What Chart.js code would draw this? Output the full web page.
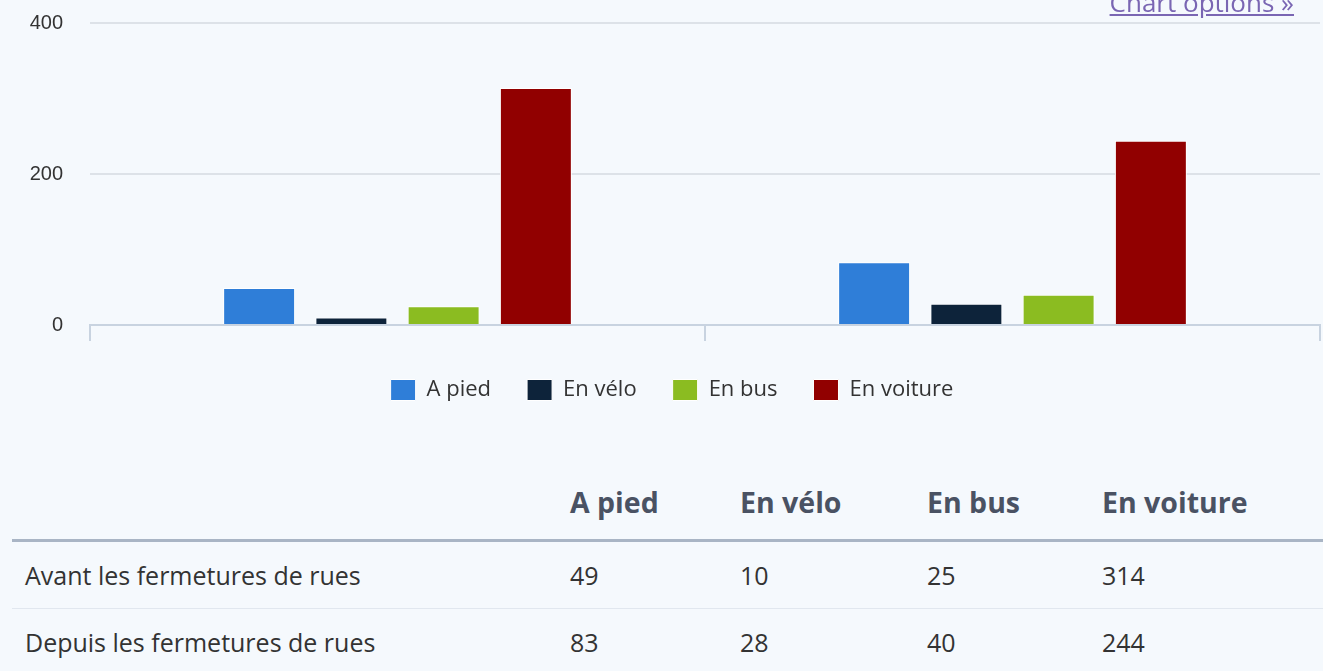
<!DOCTYPE html>
<html>
<head>
<meta charset="utf-8">
<script src="https://cdn.jsdelivr.net/npm/chart.js@4.4.0/dist/chart.umd.min.js"></script>
<style>
  html, body { margin: 0; padding: 0; background: #f5f9fd; overflow: hidden; }
  body { width: 1323px; height: 671px; position: relative; font-family: "Open Sans", sans-serif; }
  #wrap { position: absolute; left: 0; top: 0; width: 1323px; height: 409px; }
  #opts { position: absolute; top: -11px; right: 29px; font-size: 26px; line-height: 1; color: #7a66b3; text-decoration: underline; }
  table { position: absolute; left: 12px; top: 462px; width: 1311px; border-collapse: collapse; table-layout: fixed; color: #333; }
  th { font-size: 28.5px; font-weight: 700; color: #4a5263; text-align: left; height: 74px; padding: 3px 0 0 13px; border-bottom: 3px solid #a9b5c5; }
  td { font-size: 25px; text-align: left; height: 66px; padding: 0 0 0 13px; }
  tr.r1 td { border-bottom: 1px solid #e1e7ef; }
</style>
</head>
<body>
<div id="wrap"><canvas id="chart"></canvas></div>
<a id="opts" href="#">Chart options »</a>
<table>
  <colgroup><col style="width:545px"><col style="width:170px"><col style="width:187px"><col style="width:175px"><col></colgroup>
  <thead><tr id="head"><th></th></tr></thead>
  <tbody id="body"></tbody>
</table>
<script>
const categories = ['Avant les fermetures de rues', 'Depuis les fermetures de rues'];
const seriesNames = ['A pied', 'En vélo', 'En bus', 'En voiture'];
const aPied = [49, 83];
const enVelo = [10, 28];
const enBus = [25, 40];
const enVoiture = [314, 244];
const colors = ['#2f7ed8', '#0d233a', '#8bbc21', '#910000'];
const yTicks = [0, 200, 400];

const values = [aPied, enVelo, enBus, enVoiture];

// table under the chart
const head = document.getElementById('head');
seriesNames.forEach(n => { const th = document.createElement('th'); th.textContent = n; head.appendChild(th); });
const body = document.getElementById('body');
categories.forEach((c, i) => {
  const tr = document.createElement('tr');
  if (i === 0) tr.className = 'r1';
  let html = '<td>' + c + '</td>';
  values.forEach(v => { html += '<td>' + v[i] + '</td>'; });
  tr.innerHTML = html;
  body.appendChild(tr);
});

// nudge the legend a bit right and down, like the original
const legendShift = {
  id: 'legendShift',
  afterLayout(chart) {
    const l = chart.legend;
    l.left += 12; l.right += 12;
    l.top += 2; l.bottom += 2;
  },
};

new Chart(document.getElementById('chart'), {
  type: 'bar',
  data: {
    labels: categories,
    datasets: seriesNames.map((name, i) => ({
      label: name,
      data: values[i],
      backgroundColor: colors[i],
      borderColor: '#ffffff',
      borderWidth: 1,
      categoryPercentage: 0.6,
      barPercentage: 0.78,
    })),
  },
  plugins: [legendShift],
  options: {
    responsive: true,
    maintainAspectRatio: false,
    animation: false,
    layout: { padding: { top: 23, right: 3, left: 0, bottom: 0 } },
    plugins: {
      tooltip: { enabled: false },
      legend: {
        position: 'bottom',
        labels: {
          boxWidth: 25,
          boxHeight: 21,
          padding: 36,
          color: '#333',
          font: { family: 'Open Sans', size: 22 },
        },
      },
    },
    scales: {
      x: {
        border: { color: '#c8d3e0', width: 2 },
        grid: { drawOnChartArea: false, drawTicks: true, tickLength: 16, color: '#c8d3e0', lineWidth: 2 },
        ticks: { display: false },
      },
      y: {
        min: 0,
        max: 400,
        afterFit: s => { s.width = 90; },
        afterBuildTicks: s => { s.ticks = yTicks.map(v => ({ value: v })); },
        border: { display: false },
        grid: { color: '#dde2e8', lineWidth: 2, drawTicks: true, tickLength: 25, tickColor: 'rgba(0,0,0,0)' },
        ticks: { color: '#333', padding: 2, font: { family: 'Liberation Sans', size: 20 } },
      },
    },
  },
});
</script>
</body>
</html>
